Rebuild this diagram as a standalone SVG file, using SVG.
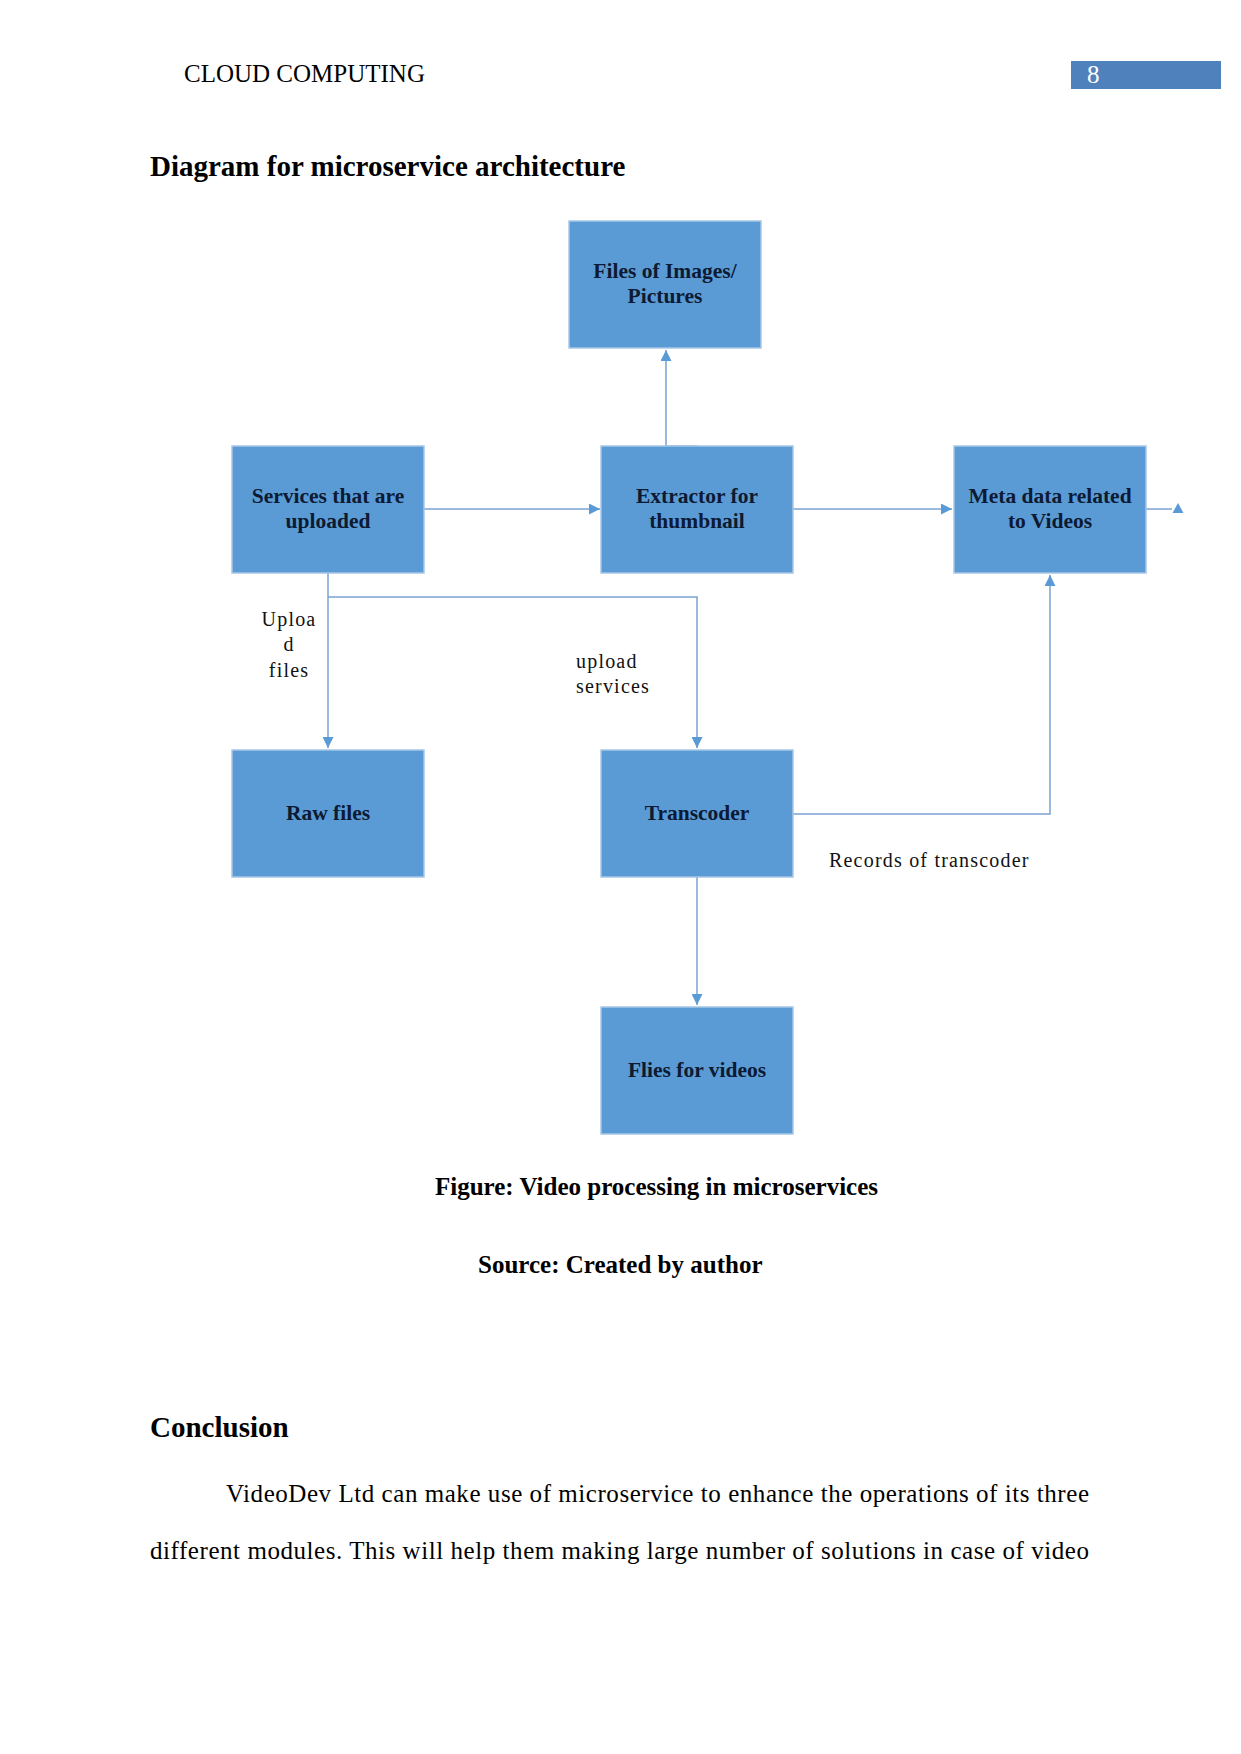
<svg xmlns="http://www.w3.org/2000/svg" width="1241" height="1754" viewBox="0 0 1241 1754">
<style>
  .serif { font-family: "Liberation Serif", "Times New Roman", serif; }
  .box { fill: #5b9bd5; stroke: #a7c7e7; stroke-width: 1.5; }
  .bt { font-family: "Liberation Serif", "Times New Roman", serif; font-weight: bold; font-size: 21.5px; fill: #0c1a33; text-anchor: middle; }
  .conn { fill: none; stroke: #7aa3d2; stroke-width: 1.5; }
  .lbl { font-family: "Liberation Serif", "Times New Roman", serif; font-size: 20px; letter-spacing: 1.2px; fill: #111; }
</style>
<defs>
  <marker id="arr" viewBox="0 0 10 10" refX="10" refY="5" markerWidth="11" markerHeight="11" markerUnits="userSpaceOnUse" orient="auto">
    <path d="M0,0 L10,5 L0,10 z" fill="#5b9bd5"/>
  </marker>
</defs>
<rect width="1241" height="1754" fill="#ffffff"/>

<!-- page header -->
<text class="serif" x="184" y="82" font-size="25" fill="#000">CLOUD COMPUTING</text>
<rect x="1071" y="61" width="150" height="28" fill="#4f81bd"/>
<text class="serif" x="1087" y="83" font-size="25" fill="#ffffff">8</text>

<text class="serif" x="150" y="176" font-size="29" font-weight="bold" fill="#000">Diagram for microservice architecture</text>

<!-- connectors -->
<g id="connectors">
  <path class="conn" d="M697,446 H666 V350" marker-end="url(#arr)"/>
  <path class="conn" d="M424,509 H600" marker-end="url(#arr)"/>
  <path class="conn" d="M793,509 H952" marker-end="url(#arr)"/>
  <path class="conn" d="M1146,509 H1172"/>
  <polygon points="1178,503 1183.5,513 1172.5,513" fill="#5b9bd5"/>
  <path class="conn" d="M328,573 V748" marker-end="url(#arr)"/>
  <path class="conn" d="M328,597 H697 V748" marker-end="url(#arr)"/>
  <path class="conn" d="M793,814 H1050 V575" marker-end="url(#arr)"/>
  <path class="conn" d="M697,877 V1005" marker-end="url(#arr)"/>
</g>

<!-- nodes -->
<g id="node-images">
  <rect class="box" x="569" y="221" width="192" height="127"/>
  <text class="bt" x="665" y="278">Files of Images/</text>
  <text class="bt" x="665" y="303">Pictures</text>
</g>
<g id="node-services">
  <rect class="box" x="232" y="446" width="192" height="127"/>
  <text class="bt" x="328" y="503">Services that are</text>
  <text class="bt" x="328" y="528">uploaded</text>
</g>
<g id="node-extractor">
  <rect class="box" x="601" y="446" width="192" height="127"/>
  <text class="bt" x="697" y="503">Extractor for</text>
  <text class="bt" x="697" y="528">thumbnail</text>
</g>
<g id="node-meta">
  <rect class="box" x="954" y="446" width="192" height="127"/>
  <text class="bt" x="1050" y="503">Meta data related</text>
  <text class="bt" x="1050" y="528">to Videos</text>
</g>
<g id="node-raw">
  <rect class="box" x="232" y="750" width="192" height="127"/>
  <text class="bt" x="328" y="820">Raw files</text>
</g>
<g id="node-transcoder">
  <rect class="box" x="601" y="750" width="192" height="127"/>
  <text class="bt" x="697" y="820">Transcoder</text>
</g>
<g id="node-videos">
  <rect class="box" x="601" y="1007" width="192" height="127"/>
  <text class="bt" x="697" y="1077">Flies for videos</text>
</g>

<!-- connector labels -->
<g id="labels">
  <text class="lbl" x="289" y="626" text-anchor="middle">Uploa</text>
  <text class="lbl" x="289" y="651" text-anchor="middle">d</text>
  <text class="lbl" x="289" y="677" text-anchor="middle">files</text>
  <text class="lbl" x="576" y="668">upload</text>
  <text class="lbl" x="576" y="693">services</text>
  <text class="lbl" x="829" y="867">Records of transcoder</text>
</g>

<!-- captions -->
<text class="serif" x="435" y="1195" font-size="25" font-weight="bold" fill="#000">Figure: Video processing in microservices</text>
<text class="serif" x="478" y="1273" font-size="25" font-weight="bold" fill="#000">Source: Created by author</text>

<text class="serif" x="150" y="1437" font-size="29" font-weight="bold" fill="#000">Conclusion</text>
<text class="serif" x="226" y="1502" font-size="25" fill="#000" textLength="863" lengthAdjust="spacing">VideoDev Ltd can make use of microservice to enhance the operations of its three</text>
<text class="serif" x="150" y="1559" font-size="25" fill="#000" textLength="939" lengthAdjust="spacing">different modules. This will help them making large number of solutions in case of video</text>
</svg>
